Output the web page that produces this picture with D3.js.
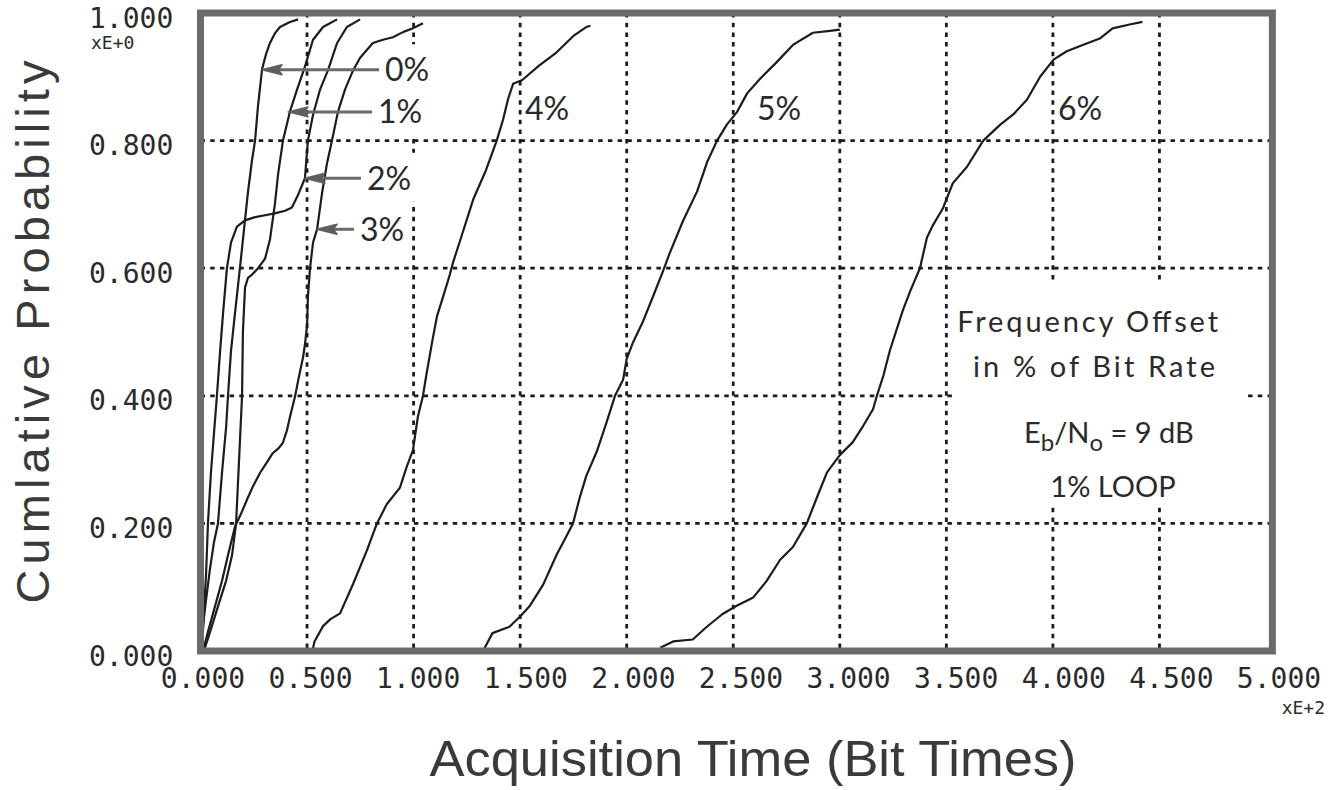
<!DOCTYPE html>
<html>
<head>
<meta charset="utf-8">
<script src="https://cdn.jsdelivr.net/npm/d3@7"></script>
<style>
  body { margin: 0; background: #ffffff; }
  svg { display: block; }
</style>
</head>
<body>
<svg id="chart" width="1338" height="790"></svg>
<script>
// ---------------- DATA ----------------
const seriesNames = ["0%", "1%", "2%", "3%", "4%", "5%", "6%"];

// acquisition time in bit times, cumulative probability
const time0 = [0.2, 1.2, 2.6, 4.5, 6.3, 8.2, 10.1, 12.0, 12.9, 14.3, 16.2, 18.5, 20.4, 22.3, 24.2, 25.6, 27.0, 28.9, 30.7, 32.6, 34.9, 37.3, 42.0, 45.8];
const prob0 = [0.0, 0.04, 0.08, 0.13, 0.17, 0.2, 0.28, 0.35, 0.4, 0.47, 0.53, 0.6, 0.66, 0.72, 0.77, 0.8, 0.855, 0.912, 0.935, 0.953, 0.968, 0.978, 0.986, 0.99];

const time1 = [1.6, 4.5, 8.2, 12.0, 14.8, 16.7, 18.1, 19.5, 19.9, 20.9, 22.3, 24.2, 27.0, 30.3, 32.6, 34.9, 36.4, 38.7, 42.0, 45.3, 49.0, 52.8, 57.5, 64.1];
const prob1 = [0.0, 0.03, 0.07, 0.11, 0.15, 0.2, 0.3, 0.4, 0.5, 0.57, 0.585, 0.59, 0.6, 0.615, 0.645, 0.7, 0.747, 0.8, 0.846, 0.88, 0.916, 0.958, 0.978, 0.99];

const time2 = [0.7, 1.6, 2.6, 3.5, 4.9, 6.3, 7.7, 9.2, 10.6, 12.4, 14.3, 17.1, 20.9, 25.6, 30.3, 34.9, 39.7, 42.9, 45.8, 49.0, 50.4, 52.8, 56.1, 59.8, 64.1, 68.7, 74.9];
const prob2 = [0.0, 0.06, 0.12, 0.2, 0.28, 0.34, 0.4, 0.47, 0.53, 0.6, 0.64, 0.665, 0.675, 0.68, 0.683, 0.686, 0.69, 0.695, 0.715, 0.741, 0.8, 0.84, 0.88, 0.91, 0.953, 0.978, 0.99];

const time3 = [1.2, 3.5, 6.8, 10.1, 12.9, 16.2, 19.0, 21.8, 24.6, 27.9, 31.0, 33.9, 36.7, 38.6, 40.5, 42.0, 44.3, 46.2, 48.1, 49.0, 50.0, 50.4, 51.4, 52.8, 54.7, 57.0, 59.4, 61.7, 64.5, 67.8, 71.6, 74.9, 80.9, 85.6, 90.3, 95.0, 99.7, 104.4];
const prob3 = [0.0, 0.03, 0.07, 0.11, 0.15, 0.195, 0.215, 0.237, 0.258, 0.279, 0.295, 0.31, 0.318, 0.326, 0.345, 0.367, 0.398, 0.43, 0.46, 0.48, 0.51, 0.555, 0.6, 0.64, 0.661, 0.717, 0.765, 0.8, 0.845, 0.88, 0.91, 0.93, 0.953, 0.958, 0.962, 0.97, 0.976, 0.984];

const time4 = [52.5, 53.5, 57.5, 61.0, 65.5, 71.6, 78.0, 82.8, 87.4, 93.6, 96.8, 99.7, 102.0, 104.4, 106.0, 109.0, 111.0, 114.0, 117.0, 118.6, 121.8, 128.0, 134.0, 139.0, 142.0, 144.4, 146.7, 151.0, 159.0, 167.0, 175.0, 181.0, 183.0];
const prob4 = [0.0, 0.015, 0.039, 0.05, 0.059, 0.105, 0.157, 0.2, 0.23, 0.256, 0.289, 0.315, 0.367, 0.4, 0.433, 0.49, 0.525, 0.557, 0.59, 0.61, 0.643, 0.708, 0.754, 0.8, 0.833, 0.866, 0.889, 0.895, 0.918, 0.938, 0.964, 0.978, 0.98];

const time5 = [132.6, 137.0, 145.0, 150.0, 154.6, 160.8, 167.0, 172.0, 174.8, 178.0, 181.0, 186.0, 190.7, 194.5, 198.3, 200.0, 203.0, 207.7, 212.4, 217.0, 220.0, 226.4, 233.0, 237.7, 242.4, 247.0, 251.8, 256.5, 262.6, 270.4, 278.0, 287.4, 295.4, 300.0];
const prob5 = [0.0, 0.028, 0.038, 0.054, 0.071, 0.104, 0.15, 0.182, 0.2, 0.241, 0.274, 0.313, 0.36, 0.4, 0.425, 0.458, 0.484, 0.517, 0.556, 0.595, 0.622, 0.674, 0.72, 0.766, 0.8, 0.825, 0.845, 0.874, 0.897, 0.923, 0.95, 0.969, 0.972, 0.974];

const time6 = [215.7, 221.8, 231.0, 237.6, 245.0, 251.6, 259.4, 265.7, 272.0, 278.0, 284.5, 289.3, 294.0, 300.0, 306.0, 311.0, 315.6, 317.4, 320.4, 323.5, 326.7, 329.8, 332.9, 337.6, 340.9, 343.8, 348.4, 353.0, 359.7, 367.3, 375.3, 381.4, 387.8, 394.0, 400.3, 406.5, 414.0, 422.0, 428.0, 436.0, 442.0];
const prob6 = [0.005, 0.015, 0.018, 0.038, 0.058, 0.071, 0.084, 0.11, 0.143, 0.163, 0.2, 0.241, 0.28, 0.307, 0.327, 0.353, 0.379, 0.4, 0.431, 0.471, 0.504, 0.536, 0.563, 0.6, 0.648, 0.668, 0.694, 0.733, 0.759, 0.8, 0.825, 0.841, 0.864, 0.9, 0.927, 0.94, 0.95, 0.96, 0.976, 0.982, 0.986];

const seriesTimes = [time0, time1, time2, time3, time4, time5, time6];
const seriesProbs = [prob0, prob1, prob2, prob3, prob4, prob5, prob6];

// axis ticks
const xTickValues = [0, 50, 100, 150, 200, 250, 300, 350, 400, 450, 500];
const xTickLabels = ["0.000", "0.500", "1.000", "1.500", "2.000", "2.500", "3.000", "3.500", "4.000", "4.500", "5.000"];
const yTickValues = [0, 0.2, 0.4, 0.6, 0.8, 1.0];
const yTickLabels = ["0.000", "0.200", "0.400", "0.600", "0.800", "1.000"];
const xGridValues = [50, 100, 150, 200, 250, 300, 350, 400, 450];
const yGridValues = [0.2, 0.4, 0.6, 0.8];

// annotations (data coordinates)
const arrowLabels = ["0%", "1%", "2%", "3%"];
const arrowTipTime = [28.9, 41.1, 49.0, 54.7];
const arrowTipProb = [0.911, 0.845, 0.741, 0.661];
const arrowTextTime = [86.6, 83.3, 78.1, 74.8];

const plainLabels = ["4%", "5%", "6%"];
const plainLabelTime = [152.3, 261.1, 402.4];
const plainLabelProb = 0.832;

const legendLines = ["Frequency Offset", "in % of Bit Rate", "Eb/No = 9 dB", "1% LOOP"];
const legendTime = [416.3, 419.3, 426.3, 428.2];
const legendProb = [0.5, 0.4295, 0.326, 0.241];

// ---------------- CHART ----------------
const svg = d3.select("#chart");
svg.append("rect").attr("width", 1338).attr("height", 790).attr("fill", "#ffffff");

const x = d3.scaleLinear().domain([0, 500]).range([200.5, 1266]);
const y = d3.scaleLinear().domain([0, 1]).range([651, 13]);
// printed tick labels are spread slightly wider than the ticks
const xLabelScale = d3.scaleLinear().domain([0, 500]).range([203, 1279]);

const ink = "#1c1c1c";
const gridDash = "4.5,5.2";

// grid
const gridG = svg.append("g");
gridG.selectAll("line.vg").data(xGridValues).join("line")
  .attr("class", "vg")
  .attr("x1", d => x(d)).attr("x2", d => x(d))
  .attr("y1", y(1)).attr("y2", y(0))
  .attr("stroke", ink).attr("stroke-width", 2.8)
  .attr("stroke-dasharray", gridDash);
gridG.selectAll("line.hg").data(yGridValues).join("line")
  .attr("class", "hg")
  .attr("x1", x(0)).attr("x2", x(503))
  .attr("y1", d => y(d)).attr("y2", d => y(d))
  .attr("stroke", ink).attr("stroke-width", 2.8)
  .attr("stroke-dasharray", gridDash);

// legend white box (masks grid)
svg.append("rect")
  .attr("x", x(354)).attr("y", y(0.58))
  .attr("width", x(491) - x(354)).attr("height", y(0.228) - y(0.58))
  .attr("fill", "#ffffff");

// curves
const line = d3.line().x(d => x(d.t)).y(d => y(d.p)).curve(d3.curveLinear);
const curveData = seriesNames.map((name, i) => ({
  name,
  pts: seriesTimes[i].map((t, j) => ({ t, p: seriesProbs[i][j] }))
}));
svg.append("g").selectAll("path").data(curveData).join("path")
  .attr("d", d => line(d.pts))
  .attr("fill", "none")
  .attr("stroke", ink)
  .attr("stroke-width", 2.2)
  .attr("stroke-linejoin", "round");

// arrow labels 0%..3%
const labelFont = "Lato, 'Noto Sans', 'DejaVu Sans', sans-serif";
const annG = svg.append("g");
arrowLabels.forEach((lab, i) => {
  const g = annG.append("g");
  const tx = x(arrowTipTime[i]), ty = y(arrowTipProb[i]);
  const mask = g.append("rect").attr("fill", "#ffffff");
  const txt = g.append("text")
    .attr("x", x(arrowTextTime[i]))
    .attr("y", ty)
    .attr("dy", "0.36em")
    .attr("font-family", labelFont)
    .attr("font-size", 32)
    .attr("fill", "#2a2a2a")
    .text(lab);
  const bb = txt.node().getBBox();
  mask.attr("x", bb.x - 6).attr("y", bb.y - 5).attr("width", bb.width + 12).attr("height", bb.height + 10);
  txt.raise();
  const startX = bb.x - 6;
  g.append("line")
    .attr("x1", startX).attr("x2", tx + 16)
    .attr("y1", ty).attr("y2", ty)
    .attr("stroke", "#6a6a6a").attr("stroke-width", 3);
  g.append("path")
    .attr("d", `M${tx},${ty} L${tx + 20},${ty - 5} L${tx + 16},${ty} L${tx + 20},${ty + 5} Z`)
    .attr("fill", "#5f5f5f").attr("stroke", "#5f5f5f").attr("stroke-width", 1.5)
    .attr("stroke-linejoin", "round");
});

// plain labels 4%..6%
svg.append("g").selectAll("text").data(plainLabels).join("text")
  .attr("x", (d, i) => x(plainLabelTime[i]))
  .attr("y", y(plainLabelProb))
  .attr("font-family", labelFont)
  .attr("font-size", 32)
  .attr("fill", "#2a2a2a")
  .text(d => d);

// legend text
const legG = svg.append("g")
  .attr("font-family", labelFont)
  .attr("fill", "#2a2a2a")
  .attr("text-anchor", "middle");
legG.append("text").attr("x", x(legendTime[0])).attr("y", y(legendProb[0]))
  .attr("font-size", 29).attr("textLength", 261).attr("lengthAdjust", "spacing")
  .text(legendLines[0]);
legG.append("text").attr("x", x(legendTime[1])).attr("y", y(legendProb[1]))
  .attr("font-size", 29).attr("textLength", 242).attr("lengthAdjust", "spacing")
  .text(legendLines[1]);
const eb = legG.append("text").attr("x", x(legendTime[2])).attr("y", y(legendProb[2]))
  .attr("font-size", 29);
eb.append("tspan").text("E");
eb.append("tspan").attr("font-size", 24).attr("dy", 8).text("b");
eb.append("tspan").attr("dy", -8).text("/N");
eb.append("tspan").attr("font-size", 24).attr("dy", 8).text("o");
eb.append("tspan").attr("dy", -8).text(" = 9 dB");
legG.append("text").attr("x", x(legendTime[3])).attr("y", y(legendProb[3]))
  .attr("font-size", 29)
  .text(legendLines[3]);

// frame
svg.append("rect")
  .attr("x", x(0)).attr("y", y(1))
  .attr("width", x(503) - x(0)).attr("height", y(0) - y(1))
  .attr("fill", "none")
  .attr("stroke", "#6b6b6b")
  .attr("stroke-width", 7);

// tick labels
const monoFont = "'DejaVu Sans Mono', 'Liberation Mono', monospace";
svg.append("g").selectAll("text").data(xTickValues).join("text")
  .attr("x", d => xLabelScale(d))
  .attr("y", 688)
  .attr("text-anchor", "middle")
  .attr("font-family", monoFont)
  .attr("font-size", 28)
  .attr("fill", "#2a2a2a")
  .text((d, i) => xTickLabels[i]);
svg.append("text")
  .attr("x", xLabelScale(500) + 46).attr("y", 714)
  .attr("text-anchor", "end")
  .attr("font-family", monoFont).attr("font-size", 18)
  .attr("fill", "#2a2a2a")
  .text("xE+2");

svg.append("g").selectAll("text").data(yTickValues).join("text")
  .attr("x", 89)
  .attr("y", d => y(d) + 5)
  .attr("dominant-baseline", "central")
  .attr("font-family", monoFont)
  .attr("font-size", 28)
  .attr("fill", "#2a2a2a")
  .text((d, i) => yTickLabels[i]);
svg.append("text")
  .attr("x", 91).attr("y", y(1) + 36)
  .attr("font-family", monoFont).attr("font-size", 18)
  .attr("fill", "#2a2a2a")
  .text("xE+0");

// axis titles
svg.append("text")
  .attr("transform", "translate(49,332) rotate(-90)")
  .attr("text-anchor", "middle")
  .attr("font-family", "'Liberation Sans', Arial, sans-serif")
  .attr("font-size", 47)
  .attr("fill", "#3a3a3a")
  .attr("textLength", 543).attr("lengthAdjust", "spacing")
  .text("Cumlative Probability");
svg.append("text")
  .attr("x", 753).attr("y", 776)
  .attr("text-anchor", "middle")
  .attr("font-family", "'Liberation Sans', Arial, sans-serif")
  .attr("font-size", 50)
  .attr("fill", "#3a3a3a")
  .attr("textLength", 647).attr("lengthAdjust", "spacingAndGlyphs")
  .text("Acquisition Time (Bit Times)");
</script>
</body>
</html>
